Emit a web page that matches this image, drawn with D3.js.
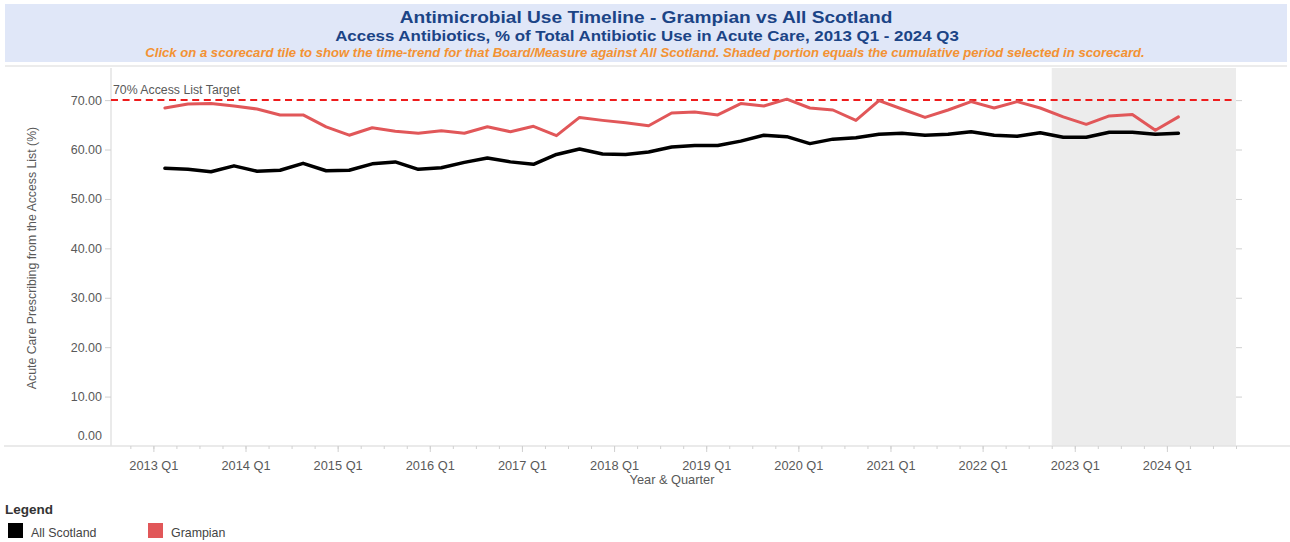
<!DOCTYPE html>
<html>
<head>
<meta charset="utf-8">
<script src="https://cdn.jsdelivr.net/npm/d3@7"></script>
<style>
  html, body { margin: 0; padding: 0; background: #fff; }
  svg { display: block; font-family: "Liberation Sans", Arial, sans-serif; }
</style>
</head>
<body>
<svg id="chart" width="1290" height="542"></svg>
<script>
// ---- Data ----
const quarters = [
  "2013 Q1","2013 Q2","2013 Q3","2013 Q4",
  "2014 Q1","2014 Q2","2014 Q3","2014 Q4",
  "2015 Q1","2015 Q2","2015 Q3","2015 Q4",
  "2016 Q1","2016 Q2","2016 Q3","2016 Q4",
  "2017 Q1","2017 Q2","2017 Q3","2017 Q4",
  "2018 Q1","2018 Q2","2018 Q3","2018 Q4",
  "2019 Q1","2019 Q2","2019 Q3","2019 Q4",
  "2020 Q1","2020 Q2","2020 Q3","2020 Q4",
  "2021 Q1","2021 Q2","2021 Q3","2021 Q4",
  "2022 Q1","2022 Q2","2022 Q3","2022 Q4",
  "2023 Q1","2023 Q2","2023 Q3","2023 Q4",
  "2024 Q1"
];
const allScotland = [
  56.2, 56.0, 55.5, 56.7,
  55.6, 55.8, 57.2, 55.7,
  55.8, 57.1, 57.5, 56.0,
  56.3, 57.4, 58.3, 57.5,
  57.0, 59.0, 60.1, 59.1,
  59.0, 59.5, 60.5, 60.8,
  60.8, 61.7, 62.9, 62.6,
  61.2, 62.1, 62.4, 63.1,
  63.3, 62.9, 63.1, 63.6,
  62.9, 62.7, 63.4, 62.5,
  62.5, 63.5, 63.5, 63.1,
  63.3
];
const grampian = [
  68.4, 69.2, 69.3, 68.8,
  68.2, 67.0, 67.0, 64.6,
  62.9, 64.4, 63.7, 63.3,
  63.8, 63.3, 64.6, 63.6,
  64.7, 62.8, 66.5, 65.9,
  65.4, 64.8, 67.4, 67.6,
  67.0, 69.3, 68.8, 70.2,
  68.4, 68.0, 65.9, 69.9,
  68.2, 66.5, 68.0, 69.7,
  68.4, 69.7, 68.4, 66.6,
  65.1, 66.8, 67.1, 63.9,
  66.6
];
const axisQuarters = [
  "2012 Q4",
  "2013 Q1","2013 Q2","2013 Q3","2013 Q4",
  "2014 Q1","2014 Q2","2014 Q3","2014 Q4",
  "2015 Q1","2015 Q2","2015 Q3","2015 Q4",
  "2016 Q1","2016 Q2","2016 Q3","2016 Q4",
  "2017 Q1","2017 Q2","2017 Q3","2017 Q4",
  "2018 Q1","2018 Q2","2018 Q3","2018 Q4",
  "2019 Q1","2019 Q2","2019 Q3","2019 Q4",
  "2020 Q1","2020 Q2","2020 Q3","2020 Q4",
  "2021 Q1","2021 Q2","2021 Q3","2021 Q4",
  "2022 Q1","2022 Q2","2022 Q3","2022 Q4",
  "2023 Q1","2023 Q2","2023 Q3","2023 Q4",
  "2024 Q1","2024 Q2","2024 Q3","2024 Q4"
];
const yTicks = [0, 10, 20, 30, 40, 50, 60, 70];
const targetValue = 70;
const targetLabel = "70% Access List Target";
const shadedStart = "2022 Q4";
const shadedEnd = "2024 Q4";
const seriesNames = ["All Scotland", "Grampian"];

// ---- Layout ----
const svg = d3.select("#chart");
const plot = { left: 111, right: 1236, top: 68, bottom: 446 };
const colors = { "All Scotland": "#000000", "Grampian": "#e15759" };

function qIndex(label) {
  const [yy, q] = label.split(" Q");
  return (+yy - 2013) * 4 + (+q - 1);
}

const x = d3.scaleLinear().domain([-1.84, 47]).range([plot.left, plot.right]);
const y = d3.scaleLinear().domain([0, 76.5]).range([plot.bottom, plot.top]);

// title box
svg.append("rect").attr("x", 5).attr("y", 4).attr("width", 1282).attr("height", 58)
  .attr("fill", "#e0e7f8");
svg.append("line").attr("x1", 5).attr("x2", 1287).attr("y1", 66).attr("y2", 66)
  .attr("stroke", "#ececec").attr("stroke-width", 2);

function stretchedText(txt, cx, cy, size, sx, attrs) {
  const t = svg.append("text")
    .attr("transform", `translate(${cx},${cy}) scale(${sx},1)`)
    .attr("text-anchor", "middle").attr("font-size", size).text(txt);
  Object.entries(attrs).forEach(([k, v]) => t.attr(k, v));
  return t;
}
stretchedText("Antimicrobial Use Timeline - Grampian vs All Scotland", 646, 23, 17, 1.125,
  { "font-weight": "bold", fill: "#1b4486" });
stretchedText("Access Antibiotics, % of Total Antibiotic Use in Acute Care, 2013 Q1 - 2024 Q3", 647, 40.5, 14.5, 1.165,
  { "font-weight": "bold", fill: "#1b4486" });
stretchedText("Click on a scorecard tile to show the time-trend for that Board/Measure against All Scotland. Shaded portion equals the cumulative period selected in scorecard.", 645, 56.5, 12.5, 1.05,
  { "font-weight": "bold", "font-style": "italic", fill: "#f39233" });

// shaded region
svg.append("rect")
  .attr("x", x(qIndex(shadedStart)))
  .attr("y", plot.top)
  .attr("width", x(qIndex(shadedEnd)) - x(qIndex(shadedStart)))
  .attr("height", plot.bottom - plot.top)
  .attr("fill", "#ececec");

// axes lines
svg.append("line").attr("x1", 4).attr("x2", 1290).attr("y1", plot.bottom).attr("y2", plot.bottom)
  .attr("stroke", "#e3e3e3").attr("stroke-width", 1.5);
svg.append("line").attr("x1", plot.left).attr("x2", plot.left).attr("y1", plot.top).attr("y2", plot.bottom)
  .attr("stroke", "#e3e3e3").attr("stroke-width", 1.5);

// y axis
const yAxis = d3.axisLeft(y).tickValues(yTicks).tickSize(6).tickFormat(d3.format(".2f"));
const gy = svg.append("g").attr("transform", `translate(${plot.left},0)`).call(yAxis);
gy.select(".domain").remove();
gy.selectAll(".tick line").attr("stroke", "#d0d0d0");
gy.selectAll(".tick text").attr("fill", "#595959").attr("font-size", 12.5)
  .attr("font-family", "Liberation Sans, Arial, sans-serif").attr("x", -9)
  .attr("dy", d => d === 0 ? "-0.55em" : "0.32em");
gy.selectAll(".tick").filter(d => d === 0).select("line").remove();

// right-side ticks
const yAxisR = d3.axisRight(y).tickValues(yTicks.filter(d => d > 0)).tickSize(6).tickFormat("");
const gyr = svg.append("g").attr("transform", `translate(${plot.right},0)`).call(yAxisR);
gyr.select(".domain").remove();
gyr.selectAll(".tick line").attr("stroke", "#d0d0d0");

// x axis ticks
const tickPos = axisQuarters.map(qIndex);
const major = axisQuarters.filter(l => l.endsWith("Q1"));
const gx = svg.append("g").attr("transform", `translate(0,${plot.bottom})`)
  .call(d3.axisBottom(x).tickValues(tickPos).tickSize(3).tickFormat(""));
gx.select(".domain").remove();
gx.selectAll(".tick line").attr("stroke", "#d0d0d0");
const gx2 = svg.append("g").attr("transform", `translate(0,${plot.bottom})`)
  .call(d3.axisBottom(x).tickValues(major.map(qIndex)).tickSize(6).tickPadding(9)
    .tickFormat((d, i) => major[i]));
gx2.select(".domain").remove();
gx2.selectAll(".tick line").attr("stroke", "#d0d0d0");
gx2.selectAll(".tick text").attr("fill", "#595959").attr("font-size", 12.8)
  .attr("font-family", "Liberation Sans, Arial, sans-serif");

// axis titles
svg.append("text").attr("x", 672).attr("y", 484).attr("text-anchor", "middle")
  .attr("font-size", 12.8).attr("fill", "#595959").text("Year & Quarter");
svg.append("text").attr("transform", "translate(36,258) rotate(-90)").attr("text-anchor", "middle")
  .attr("font-size", 12.3).attr("fill", "#595959").text("Acute Care Prescribing from the Access List (%)");

// target line
svg.append("line").attr("x1", plot.left).attr("x2", plot.right)
  .attr("y1", y(targetValue)).attr("y2", y(targetValue))
  .attr("stroke", "#ee1c1c").attr("stroke-width", 2).attr("stroke-dasharray", "7,4.6");
svg.append("text").attr("x", 113).attr("y", y(targetValue) - 6)
  .attr("font-size", 12.3).attr("fill", "#595959").text(targetLabel);

// lines
const line = d3.line().x((d, i) => x(qIndex(quarters[i]) + 0.5)).y(d => y(d));
[["Grampian", grampian, 3], ["All Scotland", allScotland, 3.5]].forEach(([name, vals, w]) => {
  svg.append("path").datum(vals).attr("d", line)
    .attr("fill", "none").attr("stroke", colors[name]).attr("stroke-width", w)
    .attr("stroke-linejoin", "round").attr("stroke-linecap", "round");
});

// legend
svg.append("text").attr("x", 5).attr("y", 514).attr("font-size", 13.5).attr("font-weight", "bold")
  .attr("fill", "#333").text("Legend");
const legendX = [8, 148];
seriesNames.forEach((name, i) => {
  svg.append("rect").attr("x", legendX[i]).attr("y", 523).attr("width", 15).attr("height", 15)
    .attr("fill", colors[name]);
  svg.append("text").attr("x", legendX[i] + 23).attr("y", 536.5).attr("font-size", 12.4)
    .attr("fill", "#444").text(name);
});
</script>
</body>
</html>
